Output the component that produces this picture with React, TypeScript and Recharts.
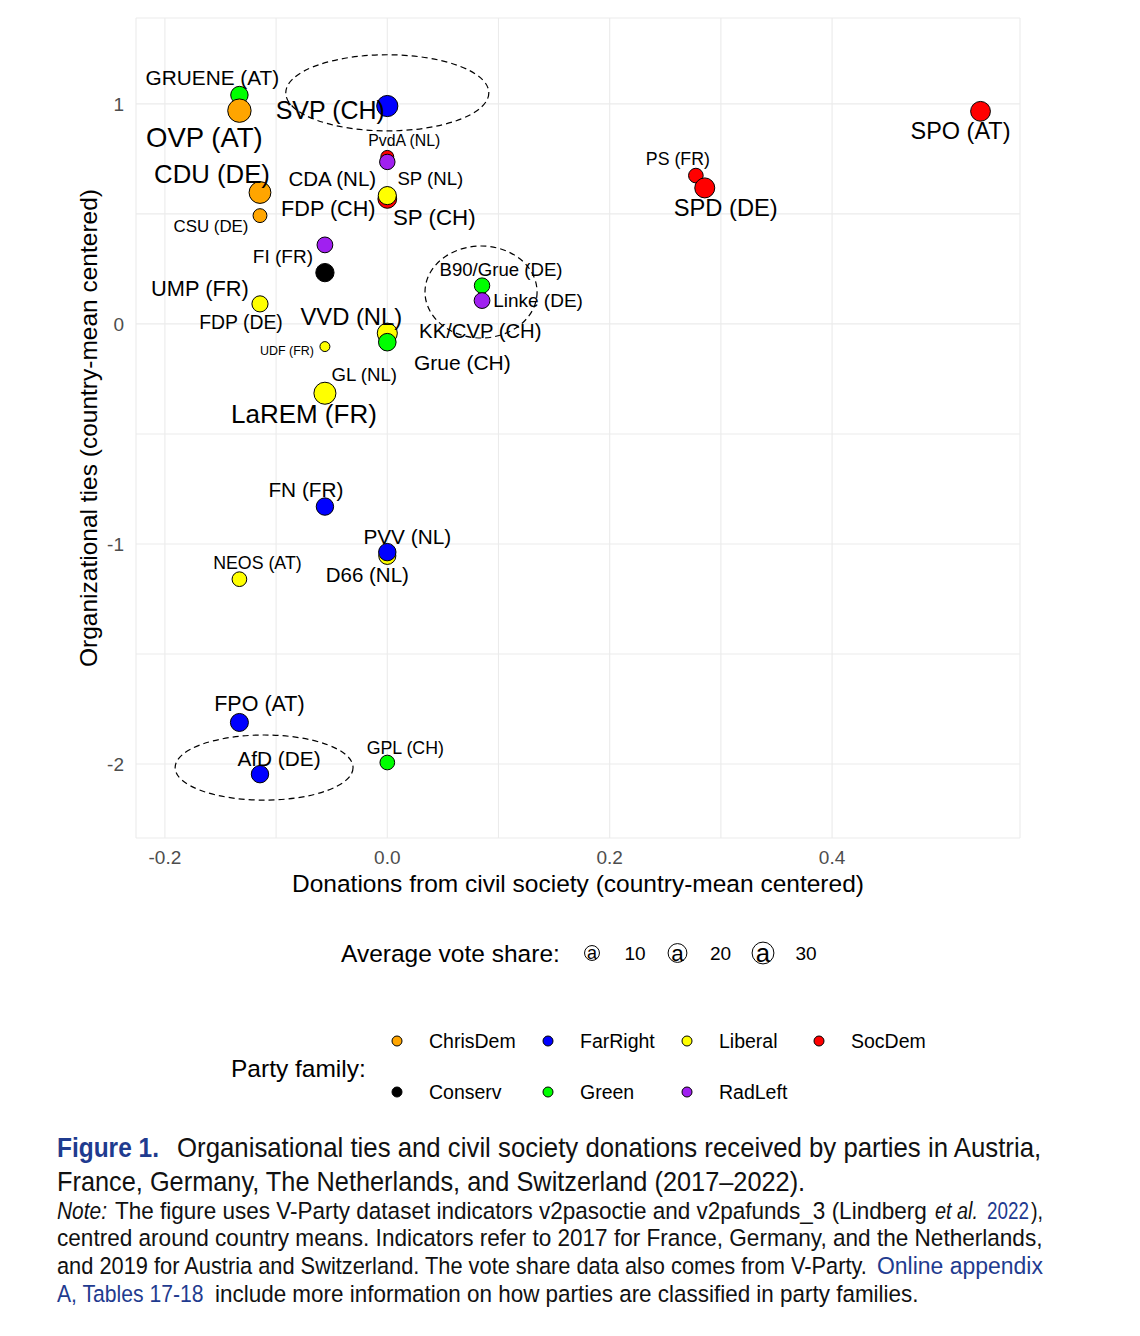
import React from "react";
import { ScatterChart, Scatter, XAxis, YAxis, CartesianGrid } from "recharts";

// party data, in drawing order (later points sit on top)
const parties = [
  "GRUENE (AT)", "OVP (AT)", "SVP (CH)", "PvdA (NL)", "SP (NL)", "CDA (NL)", "SP (CH)", "FDP (CH)",
  "CDU (DE)", "CSU (DE)", "FI (FR)", "UMP (FR)", "FDP (DE)", "UDF (FR)", "KK/CVP (CH)", "VVD (NL)",
  "GL (NL)", "Grue (CH)", "B90/Grue (DE)", "Linke (DE)", "LaREM (FR)", "FN (FR)", "D66 (NL)", "PVV (NL)",
  "NEOS (AT)", "FPO (AT)", "AfD (DE)", "GPL (CH)", "PS (FR)", "SPD (DE)", "SPO (AT)",
];
const partyFamily = [
  "Green", "ChrisDem", "FarRight", "SocDem", "RadLeft", "ChrisDem", "SocDem", "Liberal",
  "ChrisDem", "ChrisDem", "RadLeft", "Conserv", "Liberal", "Liberal", "ChrisDem", "Liberal",
  "Green", "Green", "Green", "RadLeft", "Liberal", "FarRight", "Liberal", "FarRight",
  "Liberal", "FarRight", "FarRight", "Green", "SocDem", "SocDem", "SocDem",
];
const donations = [
  -0.133, -0.133, 0, 0, 0, 0, 0, 0,
  -0.1145, -0.1145, -0.0561, -0.0561, -0.1145, -0.0561, 0, 0,
  0, 0, 0.0852, 0.0852, -0.0561, -0.0561, 0, 0,
  -0.133, -0.133, -0.1145, 0, 0.2775, 0.2855, 0.5335,
];
const ties = [
  1.04, 0.969, 0.99, 0.759, 0.736, 0.583, 0.568, 0.583,
  0.597, 0.492, 0.359, 0.233, 0.091, -0.103, -0.062, -0.042,
  -0.083, -0.083, 0.174, 0.106, -0.315, -0.83, -1.054, -1.037,
  -1.16, -1.811, -2.046, -1.993, 0.674, 0.618, 0.966,
];
const voteShare = [
  16, 36, 27.6, 6.3, 11.2, 15.3, 19.8, 18,
  30, 8, 12, 18.5, 12.8, 2.3, 14.8, 24,
  11.2, 16.5, 11.2, 12, 30.8, 16, 15.3, 16,
  9.6, 17.7, 16, 9.6, 9.5, 23.7, 23,
];

// dashed ellipses (data units)
const ellipseX = [0, 0.0843, -0.1108];
const ellipseY = [1.05, 0.145, -2.016];
const ellipseRx = [0.0913, 0.0504, 0.08];
const ellipseRy = [0.173, 0.209, 0.148];

const families = ["ChrisDem", "FarRight", "Liberal", "SocDem", "Conserv", "Green", "RadLeft"];
const sizeBreaks = [10, 20, 30];
const xTicks = [-0.2, -0.1, 0, 0.1, 0.2, 0.3, 0.4];
const yTicks = [-2, -1.5, -1, -0.5, 0, 0.5, 1];

// label placement (pixel offsets from each point, like ggrepel output)
const labelNudge: [number, number][] = [
  [-27, -18], [-35, 27], [-57, 4], [17, -16], [43, 17], [-55, -17], [47, 19], [-59, 13],
  [-48, -19], [-49, 11], [-42, 12], [-125, 16], [-19, 18], [-38, 4], [93, -7], [-36, -17],
  [-23, 32], [75, 20], [19, -16], [56, 0], [-21, 21], [-19, -17], [-20, 19], [20, -16],
  [18, -16], [20, -18], [19, -16], [18, -15], [-18, -17], [21, 20], [-20, 20],
];

const familyColors: Record<string, string> = {
  ChrisDem: "#FFA500",
  FarRight: "#0000FF",
  Liberal: "#FFFF00",
  SocDem: "#FF0000",
  Conserv: "#000000",
  Green: "#00FF00",
  RadLeft: "#A020F0",
};

const X_DOMAIN: [number, number] = [-0.226, 0.569];
const Y_DOMAIN: [number, number] = [-2.336, 1.39];
const PLOT = { left: 136, top: 18, right: 1020, bottom: 838 };
const PX_X = (PLOT.right - PLOT.left) / (X_DOMAIN[1] - X_DOMAIN[0]);
const PX_Y = (PLOT.bottom - PLOT.top) / (Y_DOMAIN[1] - Y_DOMAIN[0]);

const FONT = "'Liberation Sans', Arial, sans-serif";

const radius = (v: number) => 2.7 + 1.5 * Math.sqrt(v);
const labelSize = (v: number) => 7.4 + 3.35 * Math.sqrt(v);

const points = parties.map((name, i) => ({
  name,
  family: partyFamily[i],
  x: donations[i],
  y: ties[i],
  vote: voteShare[i],
  nudge: labelNudge[i],
}));

const ellipses = ellipseX.map((x, i) => ({ x, y: ellipseY[i], rx: ellipseRx[i], ry: ellipseRy[i] }));

const PointShape = (p: any) => (
  <circle
    cx={p.cx}
    cy={p.cy}
    r={radius(p.payload.vote)}
    fill={familyColors[p.payload.family]}
    stroke="#000"
    strokeWidth={1}
  />
);

const LabelShape = (p: any) => (
  <text
    x={p.cx + p.payload.nudge[0]}
    y={p.cy + p.payload.nudge[1]}
    textAnchor="middle"
    dominantBaseline="central"
    fontSize={labelSize(p.payload.vote)}
    fontFamily={FONT}
    fill="#000"
  >
    {p.payload.name}
  </text>
);

const EllipseShape = (p: any) => (
  <ellipse
    cx={p.cx}
    cy={p.cy}
    rx={p.payload.rx * PX_X}
    ry={p.payload.ry * PX_Y}
    fill="none"
    stroke="#000"
    strokeWidth={1.2}
    strokeDasharray="6 4"
  />
);

const tickStyle = { fill: "#4d4d4d", fontSize: 19, fontFamily: FONT };

function Legends() {
  const famX = [397, 548, 687, 819];
  return (
    <svg width={1140} height={1130} style={{ position: "absolute", left: 0, top: 0, pointerEvents: "none" }}>
      <text x={578} y={883} textAnchor="middle" dominantBaseline="central" fontSize={24.5} fontFamily={FONT}>
        Donations from civil society (country-mean centered)
      </text>
      <text
        transform="translate(88,428) rotate(-90)"
        textAnchor="middle"
        dominantBaseline="central"
        fontSize={24.5}
        fontFamily={FONT}
      >
        Organizational ties (country-mean centered)
      </text>

      <text x={341} y={953} dominantBaseline="central" fontSize={24.5} fontFamily={FONT}>
        Average vote share:
      </text>
      {sizeBreaks.map((v, i) => (
        <g key={v}>
          <circle cx={592 + i * 85.5} cy={953} r={radius(v)} fill="none" stroke="#000" strokeWidth={1} />
          <text
            x={592 + i * 85.5}
            y={953}
            textAnchor="middle"
            dominantBaseline="central"
            fontSize={labelSize(v)}
            fontFamily={FONT}
          >
            a
          </text>
          <text x={635 + i * 85.5} y={953} textAnchor="middle" dominantBaseline="central" fontSize={19} fontFamily={FONT}>
            {v}
          </text>
        </g>
      ))}

      <text x={231} y={1068} dominantBaseline="central" fontSize={24.5} fontFamily={FONT}>
        Party family:
      </text>
      {families.map((f, i) => {
        const col = i % 4;
        const row = Math.floor(i / 4);
        const cy = row === 0 ? 1041 : 1092;
        return (
          <g key={f}>
            <circle cx={famX[col]} cy={cy} r={5} fill={familyColors[f]} stroke="#000" strokeWidth={1} />
            <text x={famX[col] + 32} y={cy} dominantBaseline="central" fontSize={19.5} fontFamily={FONT}>
              {f}
            </text>
          </g>
        );
      })}
    </svg>
  );
}

const blue = "#1f3b8f";

const measureCtx = typeof document !== "undefined" ? document.createElement("canvas").getContext("2d") : null;

function naturalWidth(s: string, size: number, italic?: boolean, bold?: boolean) {
  if (!measureCtx) return 0;
  measureCtx.font = `${italic ? "italic " : ""}${bold ? "600 " : ""}${size}px 'Liberation Sans', Arial, sans-serif`;
  return measureCtx.measureText(s).width;
}

// one caption run: regular text squeezed horizontally to the journal's condensed width
function Run(props: {
  x: number;
  y: number;
  len: number;
  size: number;
  fill?: string;
  italic?: boolean;
  bold?: boolean;
  children: string;
}) {
  const w = naturalWidth(props.children, props.size, props.italic, props.bold);
  const sx = w > 0 ? props.len / w : 0.82;
  return (
    <text
      transform={`translate(${props.x},${props.y}) scale(${sx},1)`}
      fontSize={props.size}
      fill={props.fill || "#111"}
      fontStyle={props.italic ? "italic" : "normal"}
      fontWeight={props.bold ? 600 : 400}
    >
      {props.children}
    </text>
  );
}

function Caption() {
  const T = 27;
  const N = 23.5;
  return (
    <svg width={1140} height={200} style={{ position: "absolute", left: 0, top: 1125 }}>
      <g fontFamily={FONT}>
        <Run x={57} y={32} len={102} size={T} fill={blue} bold>Figure 1.</Run>
        <Run x={177} y={32} len={866} size={T}>
          Organisational ties and civil society donations received by parties in Austria,
        </Run>
        <Run x={57} y={66} len={749} size={T}>France, Germany, The Netherlands, and Switzerland (2017–2022).</Run>

        <Run x={57} y={93.5} len={50} size={N} italic>Note:</Run>
        <Run x={115} y={93.5} len={812} size={N}>
          The figure uses V-Party dataset indicators v2pasoctie and v2pafunds_3 (Lindberg
        </Run>
        <Run x={935} y={93.5} len={43} size={N} italic>et al.</Run>
        <Run x={987} y={93.5} len={42} size={N} fill={blue}>2022</Run>
        <Run x={1031} y={93.5} len={12} size={N}>),</Run>

        <Run x={57} y={121.2} len={986} size={N}>
          centred around country means. Indicators refer to 2017 for France, Germany, and the Netherlands,
        </Run>

        <Run x={57} y={148.9} len={812} size={N}>
          and 2019 for Austria and Switzerland. The vote share data also comes from V-Party.
        </Run>
        <Run x={877} y={148.9} len={166} size={N} fill={blue}>Online appendix</Run>

        <Run x={57} y={176.6} len={147} size={N} fill={blue}>A, Tables 17-18</Run>
        <Run x={215} y={176.6} len={704} size={N}>
          include more information on how parties are classified in party families.
        </Run>
      </g>
    </svg>
  );
}

export default function App() {
  return (
    <div style={{ position: "relative", width: 1140, height: 1336, margin: "-8px 0 0 -8px", background: "#fff" }}>
      <ScatterChart
        width={1140}
        height={910}
        margin={{ top: PLOT.top, right: 1140 - PLOT.right, bottom: 32, left: PLOT.left - 50 }}
        style={{ fontFamily: FONT }}
      >
        <CartesianGrid stroke="#ebebeb" strokeWidth={1.1} />
        <XAxis
          type="number"
          dataKey="x"
          domain={X_DOMAIN}
          allowDataOverflow
          ticks={xTicks}
          interval={0}
          tickFormatter={(v: number) => (Math.round(v * 10) % 2 === 0 ? v.toFixed(1) : "")}
          axisLine={false}
          tickLine={false}
          tickSize={0}
          tickMargin={13}
          height={40}
          tick={tickStyle}
        />
        <YAxis
          type="number"
          dataKey="y"
          domain={Y_DOMAIN}
          allowDataOverflow
          ticks={yTicks}
          interval={0}
          tickFormatter={(v: number) => (Number.isInteger(v) ? String(v) : "")}
          axisLine={false}
          tickLine={false}
          tickSize={0}
          tickMargin={12}
          width={50}
          tick={tickStyle}
        />
        <Scatter data={points} shape={PointShape} isAnimationActive={false} />
        <Scatter data={points} shape={LabelShape} isAnimationActive={false} />
        <Scatter data={ellipses} shape={EllipseShape} isAnimationActive={false} />
      </ScatterChart>
      <Legends />
      <Caption />
    </div>
  );
}
